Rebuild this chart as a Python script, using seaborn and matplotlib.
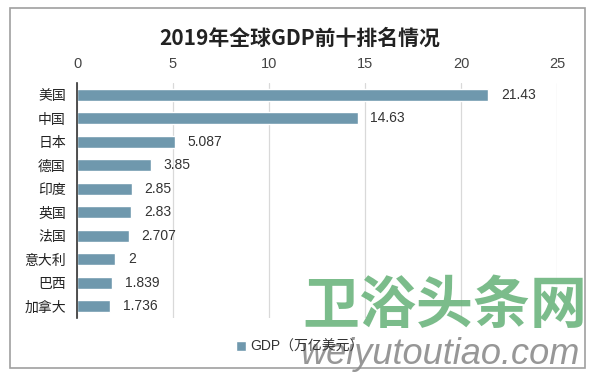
import numpy as np
import pandas as pd
import matplotlib.pyplot as plt
import seaborn as sns
from matplotlib.patches import Rectangle

countries = ['美国', '中国', '日本', '德国', '印度', '英国', '法国', '意大利', '巴西', '加拿大']
gdp = [21.43, 14.63, 5.087, 3.85, 2.85, 2.83, 2.707, 2, 1.839, 1.736]
gdp_labels = ['21.43', '14.63', '5.087', '3.85', '2.85', '2.83', '2.707', '2', '1.839', '1.736']
x_ticks = [0, 5, 10, 15, 20, 25]

sns.set_style('white')
plt.rcParams['font.family'] = ['Liberation Sans', 'Noto Sans CJK SC', 'DejaVu Sans']

df = pd.DataFrame({'country': countries, 'gdp': gdp})

fig = plt.figure(figsize=(6, 3.81), dpi=100)
ax = fig.add_axes([77/600, 1-318/381, 480/600, 235/381])

sns.barplot(data=df, x='gdp', y='country', orient='h', color='#6f98ad', width=0.5,
            saturation=1, ax=ax, label='GDP（万亿美元）')
ax.bar_label(ax.containers[0], labels=gdp_labels, padding=9, fontsize=10, color='#333333')

ax.set_xlim(0, 25)
ax.set_xticks(x_ticks)
ax.xaxis.tick_top()
ax.tick_params(axis='x', length=0, pad=9, labelsize=10.5, colors='#444444')
ax.tick_params(axis='y', length=0, pad=8, labelsize=10, colors='#222222')
ax.set_xlabel('')
ax.set_ylabel('')
ax.grid(axis='x', color='#d9d9d9', linewidth=0.9)
ax.set_axisbelow(True)
for s in ['top', 'right', 'bottom']:
    ax.spines[s].set_visible(False)
ax.spines['left'].set_color('#333333')
ax.spines['left'].set_linewidth(1.2)
if ax.legend_:
    ax.legend_.remove()

fig.text(0.5, 1-38/381, '2019年全球GDP前十排名情况', ha='center', va='center',
         fontsize=15, fontweight='bold', family=['Noto Sans CJK SC', 'DejaVu Sans'], color='#222222')

h, l = ax.get_legend_handles_labels()
fig.legend(h, l, loc='center', bbox_to_anchor=(0.5, 1-347/381), frameon=False,
           fontsize=10, handlelength=0.7, handleheight=0.7, handletextpad=0.3,
           labelcolor='#333333')

fig.patches.append(Rectangle((10/600, 1-368/381), 575/600, 360/381, transform=fig.transFigure,
                             fill=False, edgecolor='#a0a0a0', linewidth=1.2))

# watermark
fig.text(445/600, 1-306/381, '卫浴头条网', ha='center', va='center', fontsize=41,
         fontweight='heavy', family=['Noto Sans CJK SC'], color='#6db57e', alpha=0.9)
fig.text(440/600, 1-354/381, 'weiyutoutiao.com', ha='center', va='center', fontsize=26,
         style='italic', color='#8c8c8c', alpha=0.9)

fig.savefig('out.png', dpi=100)
